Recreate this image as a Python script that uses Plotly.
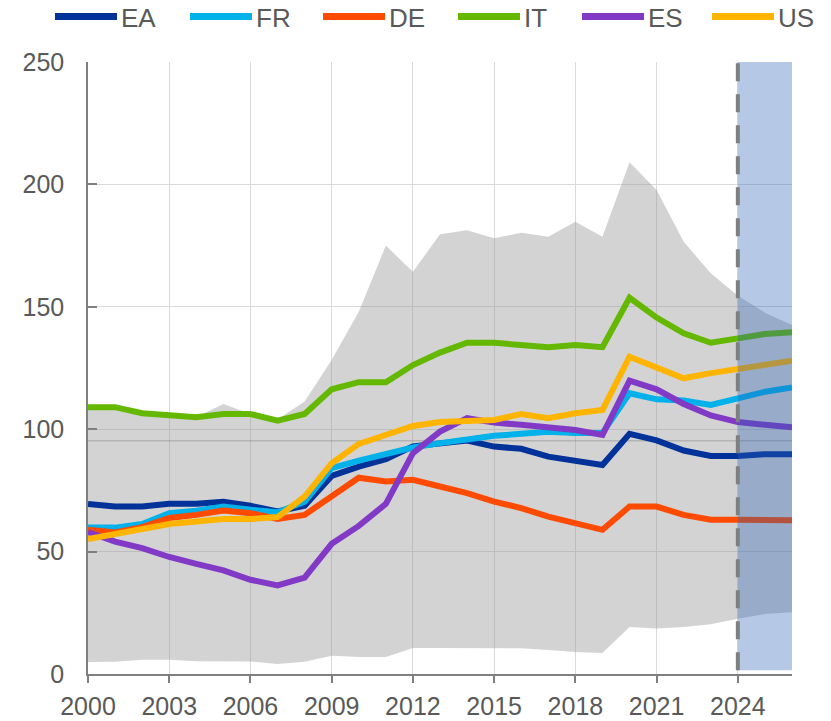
import plotly.graph_objects as go

years = list(range(2000, 2027))

EA = [69.4, 68.4, 68.4, 69.5, 69.5, 70.4, 68.7, 66.4, 68.7, 80.9, 84.7, 87.8, 93.0, 94.5, 95.4, 92.9, 92.0, 88.8, 87.2, 85.4, 98.1, 95.4, 91.3, 89.1, 89.1, 89.8, 89.8]
FR = [59.8, 59.8, 61.3, 65.7, 66.7, 68.4, 67.1, 66.1, 70.4, 84.1, 87.2, 89.9, 92.5, 94.3, 95.9, 97.3, 98.1, 99.0, 98.4, 98.4, 114.7, 112.2, 111.7, 109.9, 112.6, 115.3, 117.0]
DE = [58.9, 57.8, 60.0, 63.7, 65.0, 66.8, 65.7, 63.3, 65.0, 72.5, 80.2, 78.6, 79.3, 76.6, 73.9, 70.4, 67.8, 64.3, 61.6, 58.9, 68.4, 68.4, 65.0, 63.0, 63.0, 62.8, 62.8]
IT = [109.0, 109.0, 106.5, 105.8, 104.9, 106.2, 106.2, 103.5, 106.2, 116.3, 119.2, 119.2, 126.2, 131.3, 135.3, 135.3, 134.4, 133.5, 134.4, 133.5, 153.7, 145.6, 139.2, 135.3, 137.1, 138.9, 139.6]
ES = [58.0, 54.1, 51.4, 47.8, 45.0, 42.3, 38.5, 36.2, 39.4, 53.2, 60.5, 69.5, 90.2, 99.0, 104.5, 102.7, 101.8, 100.8, 99.7, 97.7, 119.8, 116.3, 110.3, 105.6, 102.9, 101.8, 100.8]
US = [55.1, 57.3, 59.2, 61.3, 62.3, 63.3, 63.3, 64.1, 72.5, 86.1, 94.0, 97.7, 101.3, 102.9, 103.1, 103.8, 106.2, 104.5, 106.5, 107.9, 129.6, 125.3, 120.8, 122.9, 124.5, 126.2, 128.0]

range_upper = [109.0, 109.0, 106.5, 105.8, 105.0, 110.3, 106.2, 104.0, 111.3, 128.3, 148.0, 175.0, 164.3, 179.6, 181.3, 178.0, 180.3, 178.6, 184.7, 178.6, 209.0, 197.7, 176.6, 163.7, 154.5, 147.6, 142.6]
range_lower = [4.9, 5.0, 5.8, 5.8, 5.2, 5.2, 5.1, 4.1, 5.0, 7.5, 6.9, 6.9, 10.6, 10.6, 10.6, 10.5, 10.5, 9.8, 9.0, 8.6, 19.2, 18.6, 19.2, 20.3, 22.6, 24.5, 25.2]

ref_level = 95.3
forecast_start = 2024

series_names = ["EA", "FR", "DE", "IT", "ES", "US"]
series_values = [EA, FR, DE, IT, ES, US]
series_colors = ["#003299", "#00B1EA", "#FF4B00", "#65B800", "#8139C6", "#FFB400"]

x_ticks = list(range(2000, 2025, 3))
y_ticks = [0, 50, 100, 150, 200, 250]

FONT = "Liberation Sans, Arial, sans-serif"
TXT = "#595959"

fig = go.Figure()

# min-max range band
fig.add_trace(go.Scatter(x=years, y=range_lower, mode="lines", line=dict(width=0),
                         showlegend=False, hoverinfo="skip"))
fig.add_trace(go.Scatter(x=years, y=range_upper, mode="lines", line=dict(width=0),
                         fill="tonexty", fillcolor="rgba(150,150,150,0.42)",
                         showlegend=False, hoverinfo="skip"))

# reference line
fig.add_trace(go.Scatter(x=[years[0], years[-1]], y=[ref_level, ref_level], mode="lines",
                         line=dict(color="rgba(120,120,120,0.35)", width=1.5),
                         showlegend=False, hoverinfo="skip"))

for name, vals, col in zip(series_names, series_values, series_colors):
    fig.add_trace(go.Scatter(x=years, y=vals, mode="lines", name=name,
                             line=dict(color=col, width=6), showlegend=False))

# projection band
fig.add_shape(type="rect", xref="x", yref="y", x0=forecast_start, x1=years[-1],
              y0=1.5, y1=250, fillcolor="rgba(43,96,180,0.35)", line=dict(width=0),
              layer="above")
fig.add_shape(type="line", xref="x", yref="y", x0=forecast_start, x1=forecast_start,
              y0=1.5, y1=250, line=dict(color="#7f7f7f", width=4, dash="18px,13px"),
              layer="above")

# manual legend
L, R, T, B = 88, 39, 62, 47
W, H = 831, 721
pw, ph = W - L - R, H - T - B
def px(xp):
    return (xp - L) / pw
def py(yp):
    return (H - B - yp) / ph

leg_x = [55, 190, 323, 458, 582, 712]
leg_y = 16.5
for xs, name, col in zip(leg_x, series_names, series_colors):
    fig.add_shape(type="line", xref="paper", yref="paper", x0=px(xs), x1=px(xs + 62),
                  y0=py(leg_y), y1=py(leg_y), line=dict(color=col, width=7))
    fig.add_annotation(xref="paper", yref="paper", x=px(xs + 64), y=py(leg_y + 1),
                       text=name, showarrow=False, xanchor="left", yanchor="middle",
                       font=dict(family=FONT, size=26, color=TXT))

fig.update_layout(
    width=W, height=H,
    margin=dict(l=L, r=R, t=T, b=B, autoexpand=False),
    plot_bgcolor="white", paper_bgcolor="white",
    font=dict(family=FONT, size=25, color=TXT),
    showlegend=False,
    xaxis=dict(range=[2000, 2026], tickvals=x_ticks, ticktext=[str(v) for v in x_ticks],
               showgrid=True, gridcolor="#d9d9d9", gridwidth=1,
               showline=True, linecolor="#7f7f7f", linewidth=1.5,
               ticks="outside", ticklen=7, tickcolor="#7f7f7f", tickwidth=1.5,
               zeroline=False, tickfont=dict(size=25, color=TXT), automargin=False,
               ticklabelstandoff=2),
    yaxis=dict(range=[0, 250], tickvals=y_ticks,
               showgrid=True, gridcolor="#d9d9d9", gridwidth=1,
               showline=True, linecolor="#7f7f7f", linewidth=1.5,
               ticks="inside", ticklen=9, tickcolor="#7f7f7f", tickwidth=1.5,
               zeroline=False, tickfont=dict(size=25, color=TXT), automargin=False,
               ticklabelstandoff=17),
)

fig.write_html("out.html", config={"displayModeBar": False},
               post_script="document.body.style.margin='0';")
